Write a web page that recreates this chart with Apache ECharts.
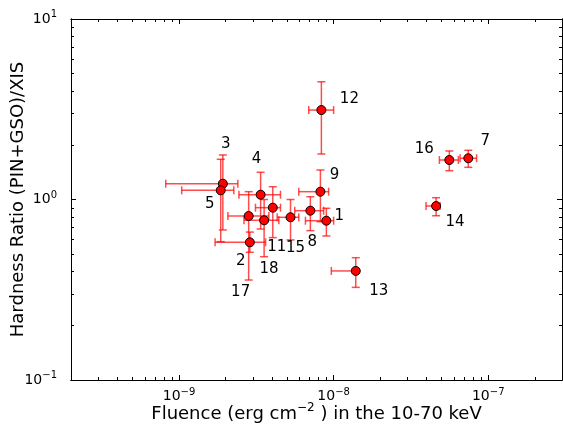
<!DOCTYPE html>
<html>
<head>
<meta charset="utf-8">
<script src="https://cdn.jsdelivr.net/npm/echarts@6/dist/echarts.min.js"></script>
<style>
  html, body { margin: 0; padding: 0; background: #fff; }
  #chart { width: 563px; height: 430px; }
</style>
</head>
<body>
<div id="chart"></div>
<script>
// burst ids and values
const burstIds   = ['1', '2', '3', '4', '5', '7', '8', '9', '11', '12', '13', '14', '15', '16', '17', '18'];
const fluence    = [8.97e-9, 2.87e-9, 1.92e-9, 3.37e-9, 1.86e-9, 7.43e-8, 7.07e-9, 8.21e-9, 4.04e-9, 8.33e-9, 1.39e-8, 4.60e-8, 5.26e-9, 5.60e-8, 2.82e-9, 3.55e-9];
const fluenceLo  = [6.57e-9, 1.71e-9, 8.2e-10, 2.44e-9, 1.04e-9, 6.57e-8, 5.60e-9, 5.95e-9, 3.12e-9, 6.90e-9, 9.66e-9, 3.96e-8, 4.31e-9, 4.83e-8, 2.07e-9, 2.63e-9];
const fluenceHi  = [1.00e-8, 3.63e-9, 2.40e-9, 4.53e-9, 2.26e-9, 8.41e-8, 8.62e-9, 9.28e-9, 4.53e-9, 1.00e-8, 1.41e-8, 4.88e-8, 5.95e-9, 6.41e-8, 3.81e-9, 4.42e-9];
const ratio      = [0.763, 0.579, 1.223, 1.063, 1.124, 1.692, 0.867, 1.105, 0.901, 3.13, 0.402, 0.920, 0.797, 1.655, 0.810, 0.767];
const ratioLo    = [0.628, 0.510, 0.678, 0.686, 0.584, 1.508, 0.672, 0.753, 0.615, 1.787, 0.326, 0.813, 0.597, 1.444, 0.358, 0.482];
const ratioHi    = [0.894, 0.660, 1.765, 1.415, 1.670, 1.873, 1.036, 1.457, 1.177, 4.49, 0.476, 1.023, 1.000, 1.857, 1.105, 1.000];

// where each id label sits relative to its point (pixels)
const labelOffsets = [[13, -5], [-9, 19], [3, -40], [-4, -36], [-11, 14], [17, -17], [2, 31], [14, -17],
                      [4, 39], [28, -11], [23, 20], [19, 16], [5, 31], [-25, -11], [-8, 76], [5, 49]];

const xMajorTicks = [1e-9, 1e-8, 1e-7];
const yMajorTicks = [0.1, 1, 10];
const xMin = 2e-10, xMax = 3e-7;
const yMin = 0.1, yMax = 10;

function minorTicks(lo, hi) {
    let out = [];
    for (let e = Math.floor(Math.log10(lo)); e <= Math.ceil(Math.log10(hi)); e++) {
        for (let m = 2; m <= 9; m++) {
            let v = m * Math.pow(10, e);
            if (v >= lo * 0.999 && v <= hi * 1.001) out.push(v);
        }
    }
    return out;
}

const FONT = 'DejaVu Sans';
const powRich = {
    b: { fontFamily: FONT, fontSize: 14, color: '#000', lineHeight: 19 },
    s: { fontFamily: FONT, fontSize: 10, color: '#000', verticalAlign: 'top', lineHeight: 13 }
};
function powLabel(v) {
    let e = Math.round(Math.log10(v));
    return '{b|10}{s|' + String(e).replace('-', '\u2212') + '}';
}

function makeX(position, ticks, len, showLabel, extra) {
    return Object.assign({
        type: 'log', min: xMin, max: xMax, position: position, logBase: 10,
        axisLine: { show: true, onZero: false, lineStyle: { color: '#000', width: 1 } },
        axisTick: { show: true, inside: true, length: len, customValues: ticks, lineStyle: { color: '#000', width: 1 } },
        axisLabel: showLabel
            ? { show: true, customValues: ticks, formatter: powLabel, rich: powRich, margin: 7 }
            : { show: false },
        splitLine: { show: false }
    }, extra || {});
}
function makeY(position, ticks, len, showLabel, extra) {
    return Object.assign({
        type: 'log', min: yMin, max: yMax, position: position, logBase: 10,
        axisLine: { show: true, onZero: false, lineStyle: { color: '#000', width: 1 } },
        axisTick: { show: true, inside: true, length: len, customValues: ticks, lineStyle: { color: '#000', width: 1 } },
        axisLabel: showLabel
            ? { show: true, customValues: ticks, formatter: powLabel, rich: powRich, margin: 14 }
            : { show: false },
        splitLine: { show: false }
    }, extra || {});
}

let points = [];
let bars = [];
for (let i = 0; i < burstIds.length; i++) {
    points.push({
        value: [fluence[i], ratio[i]],
        name: burstIds[i],
        label: { offset: labelOffsets[i] }
    });
    bars.push([fluence[i], ratio[i], fluenceLo[i], fluenceHi[i], ratioLo[i], ratioHi[i]]);
}

const CAP = 4;
function renderErrorBar(params, api) {
    let c = api.coord([api.value(0), api.value(1)]);
    let xl = api.coord([api.value(2), api.value(1)])[0];
    let xh = api.coord([api.value(3), api.value(1)])[0];
    let yl = api.coord([api.value(0), api.value(4)])[1];
    let yh = api.coord([api.value(0), api.value(5)])[1];
    let style = { stroke: 'rgba(255,0,0,0.7)', lineWidth: 1.5, fill: null };
    return {
        type: 'group',
        children: [
            { type: 'line', shape: { x1: xl, y1: c[1], x2: xh, y2: c[1] }, style: style },
            { type: 'line', shape: { x1: xl, y1: c[1] - CAP, x2: xl, y2: c[1] + CAP }, style: style },
            { type: 'line', shape: { x1: xh, y1: c[1] - CAP, x2: xh, y2: c[1] + CAP }, style: style },
            { type: 'line', shape: { x1: c[0], y1: yl, x2: c[0], y2: yh }, style: style },
            { type: 'line', shape: { x1: c[0] - CAP, y1: yl, x2: c[0] + CAP, y2: yl }, style: style },
            { type: 'line', shape: { x1: c[0] - CAP, y1: yh, x2: c[0] + CAP, y2: yh }, style: style }
        ]
    };
}

const xMinor = minorTicks(xMin, xMax);
const yMinor = minorTicks(yMin, yMax);

let option = {
    animation: false,
    textStyle: { fontFamily: FONT },
    grid: { left: 71, top: 19, right: 1, bottom: 50, containLabel: false, outerBoundsMode: 'none' },
    xAxis: [
        makeX('bottom', xMajorTicks, 5, true, {
            name: '{a|Fluence (erg cm}{s|\u22122}{a| ) in the 10-70 keV}',
            nameLocation: 'middle',
            nameGap: 22,
            nameMoveOverlap: false,
            nameTextStyle: {
                rich: {
                    a: { fontFamily: FONT, fontSize: 18, color: '#000', lineHeight: 24 },
                    s: { fontFamily: FONT, fontSize: 12, color: '#000', verticalAlign: 'top', lineHeight: 15 }
                }
            }
        }),
        makeX('bottom', xMinor, 3, false),
        makeX('top', xMajorTicks, 5, false),
        makeX('top', xMinor, 3, false)
    ],
    yAxis: [
        makeY('left', yMajorTicks, 5, true, {
            name: 'Hardness Ratio (PIN+GSO)/XIS',
            nameLocation: 'middle',
            nameGap: 44,
            nameMoveOverlap: false,
            nameTextStyle: { fontFamily: FONT, fontSize: 18, color: '#000' }
        }),
        makeY('left', yMinor, 3, false),
        makeY('right', yMajorTicks, 5, false),
        makeY('right', yMinor, 3, false)
    ],
    series: [
        {
            type: 'custom',
            xAxisIndex: 0,
            yAxisIndex: 0,
            renderItem: renderErrorBar,
            data: bars,
            z: 2,
            silent: true
        },
        {
            type: 'scatter',
            xAxisIndex: 0,
            yAxisIndex: 0,
            symbol: 'circle',
            symbolSize: 9,
            itemStyle: { color: '#ff0000', borderColor: '#000', borderWidth: 1, opacity: 1 },
            label: {
                show: true,
                position: 'inside',
                formatter: '{b}',
                fontFamily: FONT,
                fontSize: 15,
                color: '#000'
            },
            data: points,
            z: 3
        }
    ]
};

const chart = echarts.init(document.getElementById('chart'), null, { renderer: 'canvas' });
chart.setOption(option);
</script>
</body>
</html>
